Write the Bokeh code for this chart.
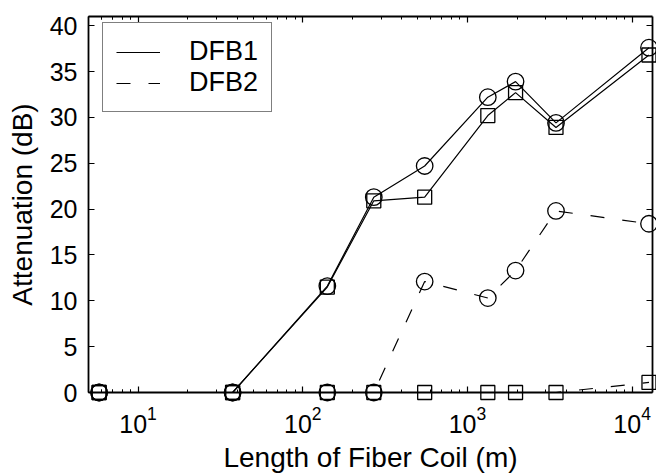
import math
from bokeh.plotting import figure
from bokeh.models import (LogAxis, LinearAxis, FixedTicker, Legend, LegendItem, Range1d)
from bokeh.embed import file_html
from bokeh.resources import INLINE

# ---- data ----
fiber_length_m = [5.8, 37.5, 141, 270, 550, 1330, 1960, 3450, 12660]
dfb1_circle_db = [0, 0, 11.6, 21.3, 24.7, 32.2, 33.9, 29.4, 37.6]
dfb1_square_db = [0, 0, 11.5, 20.9, 21.3, 30.2, 32.7, 28.9, 36.8]
dfb2_circle_db = [0, 0, 0, 0, 12.1, 10.3, 13.3, 19.8, 18.4]
dfb2_square_db = [0, 0, 0, 0, 0, 0, 0, 0, 1.1]
y_tick_values = [0, 5, 10, 15, 20, 25, 30, 35, 40]
x_tick_decades = [10, 100, 1000, 10000]
series_names = ["DFB1", "DFB2"]
x_label = "Length of Fiber Coil (m)"
y_label = "Attenuation (dB)"
x_limits = (5, 13300)
y_limits = (0, 41)

# ---- layout (pixels) ----
W, H = 656, 475
BOX_L, BOX_R, BOX_T, BOX_B = 88, 652, 16, 392
FONT = "Liberation Sans"

minor_x = [m * d / 10 for d in [10] + x_tick_decades for m in range(2, 10)]
minor_x = [v for v in minor_x if x_limits[0] <= v <= x_limits[1] and v not in x_tick_decades]

p = figure(width=W, height=H, x_axis_type="log",
           x_range=Range1d(*x_limits), y_range=Range1d(*y_limits),
           x_axis_location=None, y_axis_location=None,
           output_backend="svg", toolbar_location=None,
           min_border_left=BOX_L, min_border_right=W - BOX_R,
           min_border_top=BOX_T, min_border_bottom=H - BOX_B,
           outline_line_color=None, background_fill_color="white",
           border_fill_color="white")
p.xgrid.grid_line_color = None
p.ygrid.grid_line_color = None

# ---- series (markers on an unclipped level so they can overhang the box) ----
def series(y, marker, size, dash):
    ln = p.line(fiber_length_m, y, line_color="black", line_width=1.2, line_dash=dash)
    p.scatter(fiber_length_m, y, marker=marker, size=size, fill_color=None,
              line_color="black", line_width=1.3, level="annotation")
    return ln

DASH = "14 18"
l1 = series(dfb1_circle_db, "circle", 16.5, "solid")
series(dfb1_square_db, "square", 14, "solid")
l3 = series(dfb2_circle_db, "circle", 16.5, DASH)
series(dfb2_square_db, "square", 14, DASH)

# ---- axes ----
style = dict(axis_line_width=1.8, axis_line_color="black",
             major_tick_line_width=1.2, minor_tick_line_width=1.0,
             major_tick_line_color="black", minor_tick_line_color="black",
             major_tick_in=6, major_tick_out=0, minor_tick_in=3, minor_tick_out=0,
             major_label_text_font=FONT, major_label_text_font_size="25px",
             major_label_text_color="black",
             axis_label_text_font=FONT, axis_label_text_font_size="28px",
             axis_label_text_font_style="normal", axis_label_text_color="black")

hidden_labels = dict(major_label_text_font_size="1px", major_label_text_alpha=0,
                     major_label_standoff=0)

xb = LogAxis(ticker=FixedTicker(ticks=x_tick_decades, minor_ticks=minor_x),
             axis_label=x_label, major_label_standoff=13, axis_label_standoff=6, **style)
p.add_layout(xb, "below")

xt = LogAxis(ticker=FixedTicker(ticks=x_tick_decades, minor_ticks=minor_x), **style)
xt.update(**hidden_labels)
p.add_layout(xt, "above")

yl = LinearAxis(ticker=FixedTicker(ticks=y_tick_values), axis_label=y_label,
                major_label_standoff=11, axis_label_standoff=9, **style)
yl.minor_tick_line_color = None
p.add_layout(yl, "left")

yr = LinearAxis(ticker=FixedTicker(ticks=y_tick_values), **style)
yr.minor_tick_line_color = None
yr.update(**hidden_labels)
p.add_layout(yr, "right")

# ---- legend (screen units are relative to the plot box's bottom-left) ----
legend = Legend(items=[LegendItem(label=series_names[0], renderers=[l1]),
                       LegendItem(label=series_names[1], renderers=[l3])],
                location=(102 - BOX_L, BOX_B - 112), padding=13, spacing=0, margin=0,
                label_height=30, glyph_height=30, glyph_width=44, label_standoff=29,
                label_text_font=FONT, label_text_font_size="27px", label_text_color="black",
                border_line_color="black", border_line_width=1.3,
                background_fill_color="white", background_fill_alpha=1)
p.add_layout(legend, "center")

open("out.html", "w").write(file_html(p, INLINE))
